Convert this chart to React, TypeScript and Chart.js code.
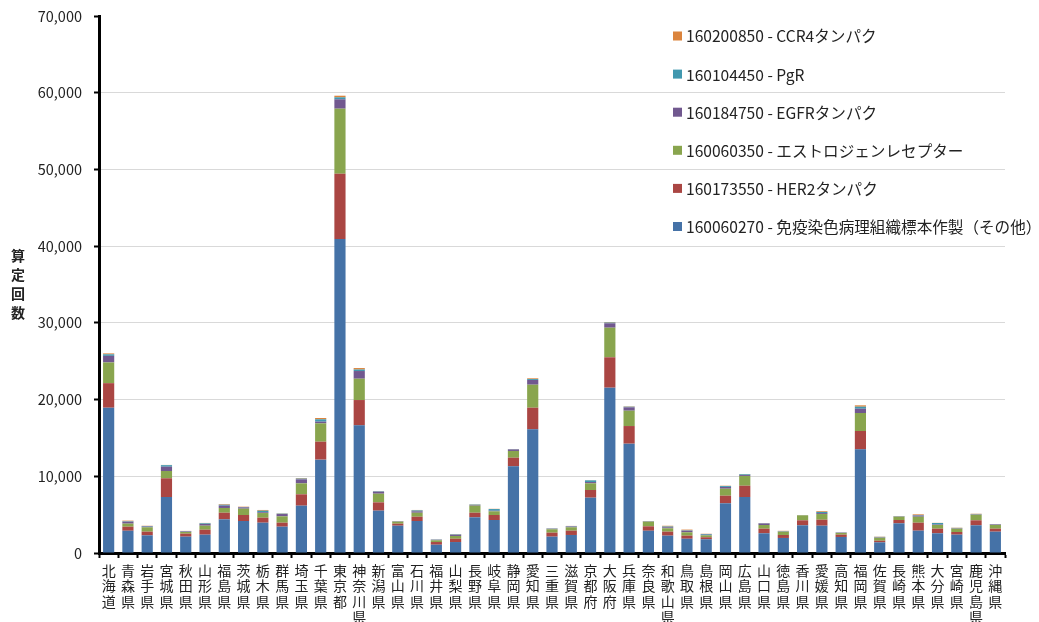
import React, { useEffect, useRef } from "react";
import { Chart, registerables } from "chart.js";

Chart.register(...registerables);

const prefectures = [
  "北海道", "青森県", "岩手県", "宮城県", "秋田県", "山形県", "福島県", "茨城県", "栃木県", "群馬県",
  "埼玉県", "千葉県", "東京都", "神奈川県", "新潟県", "富山県", "石川県", "福井県", "山梨県", "長野県",
  "岐阜県", "静岡県", "愛知県", "三重県", "滋賀県", "京都府", "大阪府", "兵庫県", "奈良県", "和歌山県",
  "鳥取県", "島根県", "岡山県", "広島県", "山口県", "徳島県", "香川県", "愛媛県", "高知県", "福岡県",
  "佐賀県", "長崎県", "熊本県", "大分県", "宮崎県", "鹿児島県", "沖縄県",
];

const seriesNames = [
  "160060270 - 免疫染色病理組織標本作製（その他）",
  "160173550 - HER2タンパク",
  "160060350 - エストロジェンレセプター",
  "160184750 - EGFRタンパク",
  "160104450 - PgR",
  "160200850 - CCR4タンパク",
];

const seriesColors = ["#4572A7", "#AA4643", "#89A54E", "#71588F", "#4198AF", "#DB843D"];

const immunoOther = [
  18940, 2900, 2300, 7300, 2130, 2390, 4390, 4170, 3950, 3430,
  6170, 12170, 40930, 16640, 5520, 3560, 4170, 1080, 1430, 4650,
  4300, 11300, 16120, 2130, 2350, 7210, 21550, 14250, 2900, 2260,
  1860, 1790, 6480, 7300, 2570, 1960, 3610, 3560, 2090, 13510,
  1390, 3870, 2910, 2570, 2390, 3610, 2780,
];
const her2 = [
  3200, 530, 480, 2440, 390, 650, 860, 780, 650, 520,
  1480, 2340, 8510, 3300, 1080, 260, 560, 350, 430, 600,
  650, 1120, 2820, 520, 560, 1000, 3960, 2300, 580, 520,
  400, 260, 990, 1470, 600, 390, 650, 780, 300, 2390,
  210, 430, 1040, 600, 350, 650, 390,
];
const estrogen = [
  2700, 400, 570, 950, 220, 520, 620, 830, 610, 830,
  1430, 2390, 8480, 2780, 1130, 260, 520, 220, 360, 920,
  480, 880, 3000, 440, 440, 870, 3860, 2000, 600, 440,
  440, 250, 910, 1270, 480, 430, 650, 740, 220, 2350,
  390, 430, 780, 480, 430, 730, 480,
];
const egfr = [
  860, 250, 100, 560, 70, 220, 300, 170, 100, 300,
  520, 220, 1220, 1000, 260, 40, 180, 70, 150, 80,
  80, 200, 610, 70, 100, 170, 570, 440, 40, 130,
  200, 80, 220, 120, 200, 40, 20, 120, 40, 560,
  60, 40, 150, 60, 60, 60, 60,
];
const pgr = [
  200, 60, 70, 200, 40, 90, 120, 50, 200, 50,
  100, 310, 260, 200, 60, 30, 120, 40, 60, 60,
  220, 40, 120, 40, 50, 220, 100, 80, 30, 100,
  50, 100, 120, 100, 40, 40, 10, 150, 30, 260,
  50, 30, 60, 200, 40, 40, 40,
];
const ccr4 = [
  120, 80, 30, 30, 30, 50, 80, 40, 100, 40,
  80, 170, 210, 190, 30, 20, 60, 20, 50, 40,
  30, 20, 100, 20, 30, 30, 70, 50, 20, 100,
  100, 30, 50, 40, 20, 30, 10, 100, 20, 180,
  30, 20, 100, 20, 30, 30, 30,
];

const yTicks = [0, 10000, 20000, 30000, 40000, 50000, 60000, 70000];
const yTitle = "算定回数";

const FONT = "'Noto Sans CJK JP', 'Noto Sans', sans-serif";

const legendPlugin = {
  id: "customLegend",
  afterDraw(chart: any) {
    const ctx = chart.ctx;
    const items = chart.data.datasets.map((d: any) => ({ label: d.label, color: d.backgroundColor })).reverse();
    ctx.save();
    ctx.font = `15.6px ${FONT}`;
    ctx.textBaseline = "middle";
    ctx.textAlign = "left";
    items.forEach((it: any, i: number) => {
      const y = 36 + i * 38.1;
      ctx.fillStyle = it.color;
      ctx.fillRect(673, y - 4.5, 9, 9);
      ctx.fillStyle = "#222";
      ctx.fillText(it.label, 686, y + 0.5);
    });
    ctx.restore();
  },
};

const yTitlePlugin = {
  id: "yTitleStacked",
  afterDraw(chart: any) {
    const ctx = chart.ctx;
    const area = chart.chartArea;
    const chars = Array.from(yTitle);
    const step = 19;
    const mid = (area.top + area.bottom) / 2;
    ctx.save();
    ctx.font = `bold 14px ${FONT}`;
    ctx.fillStyle = "#222";
    ctx.textAlign = "center";
    ctx.textBaseline = "middle";
    chars.forEach((c, i) => {
      ctx.fillText(c, 18, mid + (i - (chars.length - 1) / 2) * step);
    });
    ctx.restore();
  },
};

export default function App() {
  const ref = useRef<HTMLCanvasElement | null>(null);

  useEffect(() => {
    document.body.style.margin = "0";
    document.body.style.overflow = "hidden";
    const values = [immunoOther, her2, estrogen, egfr, pgr, ccr4];
    const chart = new Chart(ref.current as HTMLCanvasElement, {
      type: "bar",
      data: {
        labels: prefectures.map((p) => Array.from(p)),
        datasets: values.map((v, i) => ({
          label: seriesNames[i],
          data: v,
          backgroundColor: seriesColors[i],
          borderWidth: 0,
          categoryPercentage: 1,
          barPercentage: 0.58,
        })),
      },
      options: {
        animation: false,
        responsive: true,
        maintainAspectRatio: false,
        layout: { padding: { top: 0, right: 34, left: 0, bottom: 0 } },
        plugins: {
          legend: { display: false },
          tooltip: { enabled: false },
        },
        scales: {
          x: {
            stacked: true,
            border: { color: "#000", width: 3 },
            grid: {
              drawOnChartArea: false,
              drawTicks: true,
              tickLength: 5,
              tickWidth: 2,
              tickColor: "#000",
            },
            ticks: {
              autoSkip: false,
              maxRotation: 0,
              minRotation: 0,
              padding: 5,
              color: "#222",
              font: { family: FONT, size: 14, lineHeight: 1.1 },
            },
            afterFit: (scale: any) => {
              scale.height = 69;
            },
          },
          y: {
            stacked: true,
            min: 0,
            max: 70000,
            afterBuildTicks: (scale: any) => {
              scale.ticks = yTicks.map((v) => ({ value: v }));
            },
            border: { color: "#000", width: 3 },
            grid: {
              color: (c: any) => (c.tick && (c.tick.value === 0 || c.tick.value === 70000) ? "rgba(0,0,0,0)" : "#d9d9d9"),
              lineWidth: 1,
              tickLength: 5,
              tickWidth: 2,
              tickColor: "#000",
            },
            ticks: {
              padding: 12,
              color: "#222",
              font: { family: FONT, size: 14.5 },
              callback: (v: any) => Number(v).toLocaleString("en-US"),
            },
            afterFit: (scale: any) => {
              scale.width = 99;
              scale.paddingTop = 16;
              scale.paddingBottom = 0;
            },
          },
        },
      },
      plugins: [legendPlugin, yTitlePlugin],
    });
    return () => chart.destroy();
  }, []);

  return (
    <div style={{ width: 1039, height: 622, position: "relative" }}>
      <canvas ref={ref} />
    </div>
  );
}
